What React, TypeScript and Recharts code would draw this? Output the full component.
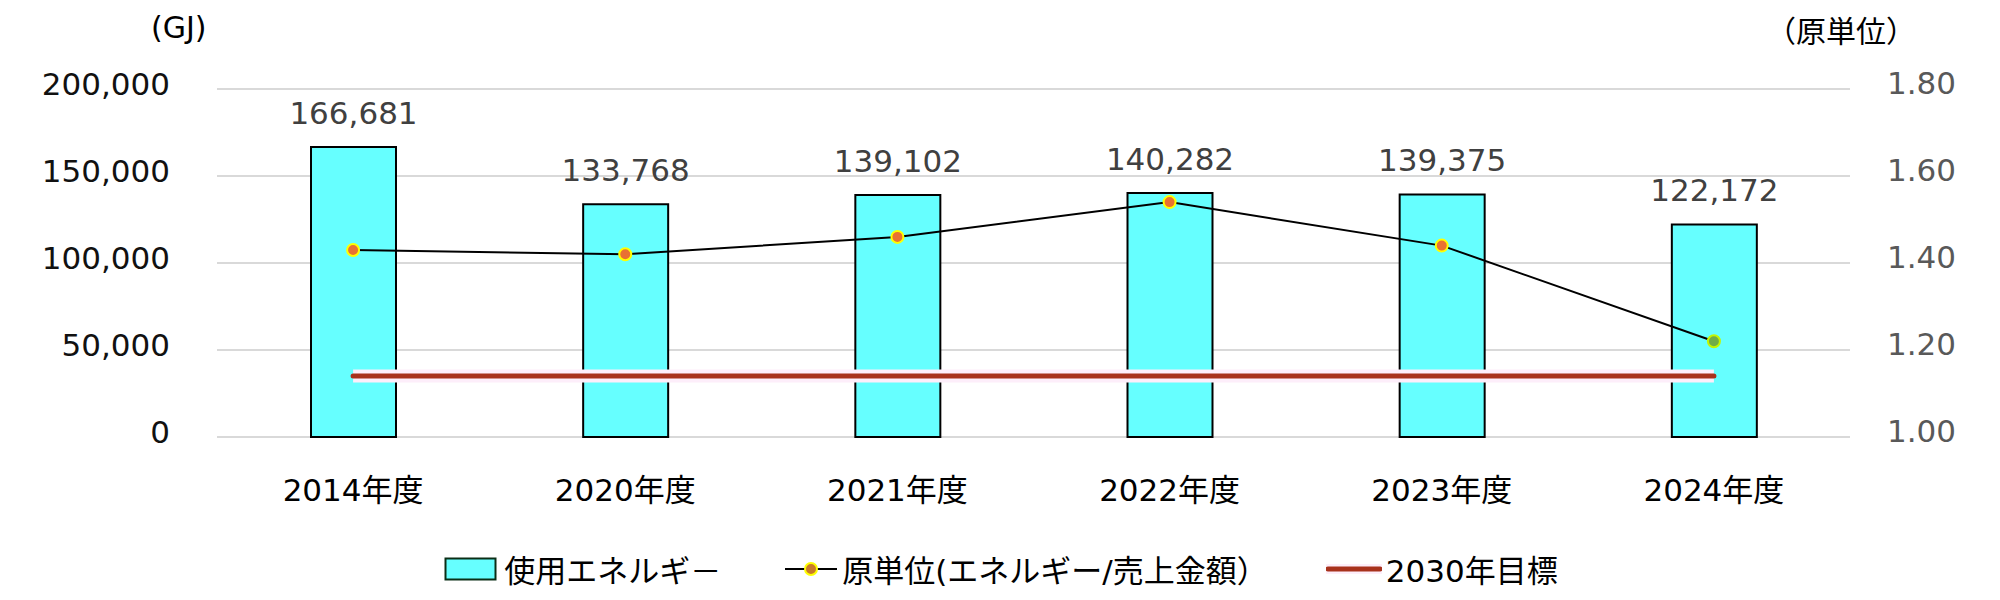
import React from 'react';
import {
  ComposedChart, Bar, Line, XAxis, YAxis, CartesianGrid, Legend, LabelList
} from 'recharts';

const FONT = "'DejaVu Sans', 'Noto Sans CJK JP', sans-serif";

const years = ['2014年度', '2020年度', '2021年度', '2022年度', '2023年度', '2024年度'];
const energy = [166681, 133768, 139102, 140282, 139375, 122172];
const intensity = [1.43, 1.42, 1.46, 1.54, 1.44, 1.22];
const target2030 = [1.14, 1.14, 1.14, 1.14, 1.14, 1.14];

const leftTicks = [0, 50000, 100000, 150000, 200000];
const rightTicks = [1.0, 1.2, 1.4, 1.6, 1.8];

const seriesNames = ['使用エネルギ－', '原単位(エネルギー/売上金額）', '2030年目標'];

const data = years.map((year, i) => ({
  year,
  energy: energy[i],
  intensity: intensity[i],
  target: target2030[i],
}));

const IntensityDot = (props: any) => {
  const { cx, cy, index } = props;
  const last = index === years.length - 1;
  return (
    <circle
      key={`dot-${index}`}
      cx={cx}
      cy={cy}
      r={6}
      fill={last ? '#70ad47' : '#e97132'}
      stroke={last ? '#c4f500' : '#ffff00'}
      strokeWidth={2}
    />
  );
};

const CustomLegend = () => (
  <div style={{ display: 'flex', justifyContent: 'center', alignItems: 'center', fontFamily: FONT, fontSize: 31, color: '#000', paddingLeft: 2 }}>
    <div style={{ display: 'flex', alignItems: 'center', marginRight: 64 }}>
      <svg width={54} height={26} style={{ marginRight: 6 }}>
        <rect x={1.5} y={2.5} width={50} height={21} fill="#66ffff" stroke="#0b2e16" strokeWidth={2} />
      </svg>
      <span>{seriesNames[0]}</span>
    </div>
    <div style={{ display: 'flex', alignItems: 'center', marginRight: 58 }}>
      <svg width={52} height={26} style={{ marginRight: 5 }}>
        <line x1={0} y1={13} x2={52} y2={13} stroke="#000" strokeWidth={2} />
        <circle cx={26} cy={13} r={6} fill="#c97a2a" stroke="#ffff00" strokeWidth={2} />
      </svg>
      <span>{seriesNames[1]}</span>
    </div>
    <div style={{ display: 'flex', alignItems: 'center' }}>
      <svg width={56} height={26} style={{ marginRight: 4 }}>
        <rect x={0} y={8} width={56} height={10} fill="#fdeefa" />
        <line x1={2} y1={13} x2={54} y2={13} stroke="#a8321c" strokeWidth={5} strokeLinecap="round" />
      </svg>
      <span>{seriesNames[2]}</span>
    </div>
  </div>
);

export default function App() {
  return (
    <div style={{ position: 'absolute', left: 0, top: 0, width: 2000, height: 600, background: '#fff', fontFamily: FONT }}>
      <div style={{ position: 'absolute', left: 151, top: 8, fontSize: 30, color: '#000', lineHeight: '40px' }}>(GJ)</div>
      <div style={{ position: 'absolute', left: 1766, top: 12, fontSize: 30, color: '#000', lineHeight: '40px' }}>（原単位）</div>
      <ComposedChart
        width={2000}
        height={600}
        data={data}
        margin={{ top: 89, right: 0, bottom: 103, left: 0 }}
      >
        <CartesianGrid vertical={false} stroke="#d9d9d9" strokeWidth={2} yAxisId="left" />
        <XAxis
          dataKey="year"
          axisLine={false}
          tickLine={false}
          tickSize={0}
          tickMargin={42}
          height={60}
          tick={{ fontSize: 31, fill: '#000', fontFamily: FONT }}
        />
        <YAxis
          yAxisId="left"
          orientation="left"
          width={217}
          domain={[0, 200000]}
          ticks={leftTicks}
          axisLine={false}
          tickLine={false}
          tickSize={0}
          tickMargin={47}
          tickFormatter={(v: number) => v.toLocaleString('en-US')}
          tick={{ fontSize: 31, fill: '#111', fontFamily: FONT, dy: -5 }}
        />
        <YAxis
          yAxisId="right"
          orientation="right"
          width={150}
          domain={[1, 1.8]}
          ticks={rightTicks}
          axisLine={false}
          tickLine={false}
          tickSize={0}
          tickMargin={37}
          tickFormatter={(v: number) => v.toFixed(2)}
          tick={{ fontSize: 31, fill: '#595959', fontFamily: FONT, dy: -6 }}
        />
        <Legend
          layout="horizontal"
          verticalAlign="middle"
          align="center"
          wrapperStyle={{ top: 546, left: 0, width: 2000 }}
          content={<CustomLegend />}
        />
        <Bar
          yAxisId="left"
          dataKey="energy"
          name={seriesNames[0]}
          fill="#66ffff"
          stroke="#000"
          strokeWidth={2}
          barSize={85}
          isAnimationActive={false}
        >
          <LabelList
            dataKey="energy"
            position="top"
            offset={23}
            formatter={(v: any) => Number(v).toLocaleString('en-US')}
            style={{ fontSize: 31, fill: '#404040', fontFamily: FONT }}
          />
        </Bar>
        <Line
          yAxisId="right"
          dataKey="target"
          legendType="none"
          stroke="#fdeefa"
          strokeWidth={13}
          dot={false}
          activeDot={false}
          isAnimationActive={false}
        />
        <Line
          yAxisId="right"
          dataKey="target"
          name={seriesNames[2]}
          stroke="#a8321c"
          strokeWidth={5}
          strokeLinecap="round"
          dot={false}
          activeDot={false}
          isAnimationActive={false}
        />
        <Line
          yAxisId="right"
          dataKey="intensity"
          name={seriesNames[1]}
          type="linear"
          stroke="#000"
          strokeWidth={2}
          dot={<IntensityDot />}
          activeDot={false}
          isAnimationActive={false}
        />
      </ComposedChart>
    </div>
  );
}
